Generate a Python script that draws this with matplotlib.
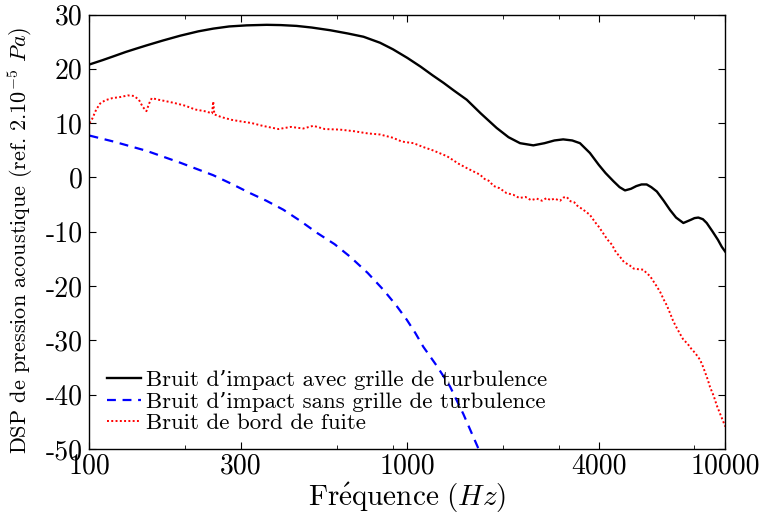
import matplotlib
matplotlib.use("Agg")
import matplotlib.pyplot as plt
from matplotlib.ticker import FixedLocator, NullFormatter

plt.rcParams['font.family'] = ['cmr10', 'DejaVu Serif']
plt.rcParams['mathtext.fontset'] = 'cm'
plt.rcParams['axes.unicode_minus'] = False

# ---- data ----
black_f = [100, 110, 119, 130, 140, 151, 170, 193, 220, 245, 275, 312, 361, 400, 448, 500,
           572, 650, 728, 820, 900, 1000, 1100, 1200, 1300, 1400, 1537, 1700, 1909, 2080,
           2261, 2489, 2700, 2900, 3090, 3300, 3490, 3750, 4000, 4200, 4446, 4650, 4836,
           5050, 5250, 5450, 5657, 5850, 6090, 6400, 6700, 7000, 7380, 7800, 8000, 8225,
           8500, 8740, 9100, 9480, 9750, 10000]
black_v = [20.8, 21.6, 22.3, 23.1, 23.7, 24.3, 25.2, 26.1, 26.9, 27.4, 27.8, 28.0, 28.1, 28.05,
           27.9, 27.6, 27.1, 26.5, 25.9, 24.8, 23.6, 22.0, 20.4, 18.8, 17.4, 16.0, 14.3, 11.8,
           9.1, 7.4, 6.3, 5.9, 6.3, 6.8, 7.0, 6.8, 6.3, 4.5, 2.3, 0.8, -0.7, -1.8, -2.4,
           -2.1, -1.6, -1.3, -1.3, -1.8, -2.6, -4.3, -6.0, -7.4, -8.4, -7.8, -7.5, -7.4,
           -7.7, -8.4, -9.9, -11.5, -12.8, -13.7]

blue_f = [100, 119, 151, 193, 245, 280, 320, 360, 407, 460, 519, 590, 660, 750, 840, 920,
          995, 1060, 1122, 1240, 1361, 1500, 1671]
blue_v = [7.7, 6.6, 4.9, 2.7, 0.4, -1.2, -2.9, -4.3, -5.95, -8.0, -10.2, -12.3, -14.6, -17.6,
          -20.7, -23.5, -26.2, -28.7, -31.2, -34.8, -38.5, -43.6, -49.9]

red_f = [100, 102, 105, 108, 112, 118, 125, 132, 138, 143, 147, 151, 154, 157, 165, 175,
         185, 200, 215, 230, 243, 245, 247, 260, 280, 300, 324, 350, 393, 430, 470, 506,
         550, 614, 680, 750, 820, 900, 960, 1045, 1120, 1200, 1332, 1450, 1550, 1692,
         1750, 1800, 1870, 1950, 2050, 2153, 2250, 2350, 2450, 2550, 2650, 2742, 2820,
         2900, 3020, 3100, 3170, 3260, 3350, 3420, 3500, 3620, 3750, 3900, 4000, 4130,
         4250, 4400, 4530, 4660, 4800, 5000, 5150, 5300, 5520, 5650, 5800, 5950, 6090,
         6250, 6400, 6550, 6700, 6850, 7000, 7200, 7380, 7600, 7800, 8050, 8330, 8500,
         8650, 8800, 8950, 9200, 9400, 9700, 10000]
red_v = [10.0, 10.8, 12.5, 13.6, 14.2, 14.6, 14.8, 15.1, 15.0, 14.3, 13.0, 12.2, 13.6, 14.6,
         14.3, 14.0, 13.7, 13.2, 12.5, 12.2, 11.8, 14.0, 11.6, 11.1, 10.6, 10.3, 10.0, 9.5,
         8.9, 9.3, 9.0, 9.5, 8.9, 8.8, 8.5, 8.1, 7.9, 7.3, 6.6, 6.3, 5.6, 5.0, 3.9, 2.5,
         1.6, 0.5, -0.3, -0.6, -1.6, -2.0, -2.9, -3.2, -3.8, -3.6, -4.2, -3.9, -4.3, -3.8,
         -4.2, -3.9, -4.3, -3.7, -3.6, -4.4, -4.6, -5.2, -5.6, -6.2, -6.9, -8.3, -9.1,
         -10.3, -11.4, -12.4, -13.8, -14.6, -15.6, -16.2, -16.8, -16.9, -17.0, -17.6,
         -18.2, -19.2, -20.1, -21.2, -22.5, -23.6, -25.0, -26.4, -27.5, -28.8, -29.9,
         -30.6, -31.5, -32.4, -33.6, -34.8, -36.0, -37.2, -38.6, -40.3, -42.0, -44.0, -45.9]

labels = ["Bruit d\u2019impact avec grille de turbulence",
          "Bruit d\u2019impact sans grille de turbulence",
          "Bruit de bord de fuite"]

x_major = [100, 300, 1000, 4000, 10000]
x_major_labels = ["100", "300", "1000", "4000", "10000"]
x_minor = [200, 600, 900, 2000, 3000, 8000]
y_ticks = [-50, -40, -30, -20, -10, 0, 10, 20, 30]

# ---- figure ----
fig = plt.figure(figsize=(7.63, 5.18), dpi=100)
ax = fig.add_axes([0.1173, 0.1335, 0.8333, 0.8385])

ax.plot(black_f, black_v, color='black', lw=1.7, ls='-', label=labels[0])
ax.plot(blue_f, blue_v, color='#0000ff', lw=1.6, ls=(0, (4, 3)), label=labels[1])
ax.plot(red_f, red_v, color='#ff0000', lw=1.4, ls=(0, (1, 1.2)), label=labels[2])

ax.set_xscale('log')
ax.set_xlim(100, 10000)
ax.set_ylim(-50, 30)
ax.xaxis.set_major_locator(FixedLocator(x_major))
ax.set_xticklabels(x_major_labels)
ax.xaxis.set_minor_locator(FixedLocator(x_minor))
ax.xaxis.set_minor_formatter(NullFormatter())
ax.set_yticks(y_ticks)
ax.set_yticklabels([str(v) for v in y_ticks])

ax.tick_params(which='both', direction='in', top=True, right=True, labelsize=20)
ax.tick_params(which='major', length=5, width=0.8)
ax.tick_params(which='minor', length=3, width=0.6)
ax.tick_params(axis='y', pad=5)
ax.tick_params(axis='x', pad=3)

ax.set_xlabel(r"$\mathrm{Fr\'{e}quence}\ (Hz)$", fontsize=21, labelpad=1)
ax.set_ylabel(r'DSP de pression acoustique (ref. 2.10$^{-5}$ $Pa$)', fontsize=16, labelpad=5)
ax.yaxis.set_label_coords(-0.085, 0.48)

for s in ax.spines.values():
    s.set_linewidth(1.0)

ax.legend(loc='lower left', frameon=False, fontsize=16.5, handlelength=1.5,
          handletextpad=0.2, labelspacing=0.05, borderaxespad=0.0, borderpad=0.0,
          bbox_to_anchor=(0.027, 0.037))

fig.savefig('out.png', dpi=100)
